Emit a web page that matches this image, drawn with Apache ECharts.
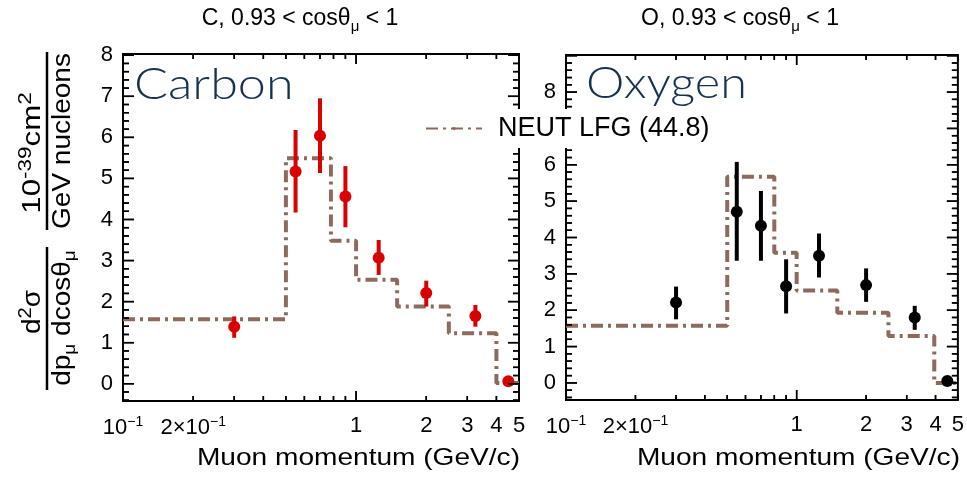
<!DOCTYPE html>
<html>
<head>
<meta charset="utf-8">
<script src="https://cdn.jsdelivr.net/npm/echarts@6/dist/echarts.min.js"></script>
<style>
  html, body { margin: 0; padding: 0; background: #ffffff; }
  #chart { width: 967px; height: 479px; }
</style>
</head>
<body>
<div id="chart"></div>
<script>
// Muon momentum bin positions (GeV/c)
const momentum = [0.3, 0.55, 0.7, 0.9, 1.25, 2.0, 3.25, 4.5];

// Carbon: measured cross section and error-bar ends (1e-39 cm^2 / GeV / nucleon)
const carbonXsec = [1.39, 5.17, 6.04, 4.56, 3.07, 2.21, 1.65, 0.06];
const carbonHigh = [1.64, 6.18, 6.95, 5.30, 3.50, 2.51, 1.92, 0.06];
const carbonLow  = [1.12, 4.17, 5.13, 3.81, 2.65, 1.88, 1.39, 0.06];

// Oxygen: measured cross section and error-bar ends
const oxygenXsec = [2.21, 4.71, 4.32, 2.66, 3.50, 2.69, 1.80, 0.05];
const oxygenHigh = [2.65, 6.08, 5.28, 3.40, 4.11, 3.15, 2.12, 0.05];
const oxygenLow  = [1.75, 3.36, 3.36, 1.91, 2.90, 2.23, 1.46, 0.05];

// NEUT LFG prediction, histogram bin edges and contents
const carbonMcEdges = [0.1, 0.5, 0.78, 1.0, 1.5, 2.5, 4.0, 5.0];
const carbonMc      = [1.57, 5.49, 3.48, 2.53, 1.88, 1.23, 0.02];
const oxygenMcEdges = [0.1, 0.5, 0.8, 1.0, 1.5, 2.5, 3.95, 5.0];
const oxygenMc      = [1.57, 5.67, 3.58, 2.54, 1.93, 1.29, 0.0];

// Axis ticks and labels
const xRange = [0.1, 5];
const xTickValues = [0.1, 0.2, 1, 2, 3, 4, 5];
const xTickLabels = ['10{sup|\u22121}', '2\u00d710{sup|\u22121}', '1', '2', '3', '4', '5'];
const xMajorTicks = [0.1, 1];
const xMinorTicks = [0.2, 0.3, 0.4, 0.5, 0.6, 0.7, 0.8, 0.9, 2, 3, 4, 5];
const yTickValues = [0, 1, 2, 3, 4, 5, 6, 7, 8];
const carbonYRange = [-0.42, 8.03];
const oxygenYRange = [-0.47, 9.02];

const legendName = 'NEUT LFG (44.8)';
const FONT = '"Liberation Sans", Arial, Helvetica, sans-serif';
const MC_COLOR = '#8c6b5e';
const lg = (v) => Math.log10(v);

function minorSteps(from, to) {
  const out = [];
  for (let k = Math.round(from * 5); k <= Math.round(to * 5); k++) {
    if (k % 5 !== 0) out.push(k / 5);
  }
  return out;
}

const hidden = { show: false, onZero: false };

function xAxisFor(grid) {
  const labelFmt = (v) => {
    for (let i = 0; i < xTickValues.length; i++) {
      if (Math.abs(lg(xTickValues[i]) - v) < 1e-6) return xTickLabels[i];
    }
    return '';
  };
  return {
    type: 'value', gridIndex: grid, min: lg(xRange[0]), max: lg(xRange[1]), position: 'bottom',
    axisLine: hidden, axisTick: { show: false }, splitLine: { show: false },
    axisLabel: {
      customValues: xTickValues.map(lg), formatter: labelFmt, margin: 14,
      fontSize: 22, fontFamily: FONT, color: '#000',
      rich: { sup: { fontSize: 14, fontFamily: FONT, color: '#000', padding: [0, 0, 12, 0] } }
    }
  };
}

function yAxisFor(grid, range) {
  return {
    type: 'value', gridIndex: grid, min: range[0], max: range[1], position: 'left',
    axisLine: hidden, axisTick: { show: false }, splitLine: { show: false },
    axisLabel: { customValues: yTickValues, margin: 10, fontSize: 22, fontFamily: FONT, color: '#000' }
  };
}

// Tick positions for one panel: [x, y, length] per frame side
function tickData(yRange) {
  const xMin = lg(xRange[0]), xMax = lg(xRange[1]);
  const yMajors = [];
  for (let v = 0; v <= yRange[1] + 1e-9; v++) yMajors.push(v);
  const yMinors = minorSteps(-0.4, Math.floor(yRange[1]));
  const bottom = [], top = [], left = [], right = [];
  xMajorTicks.forEach(v => { bottom.push([lg(v), yRange[0], 10]); top.push([lg(v), yRange[1], 10]); });
  xMinorTicks.forEach(v => { bottom.push([lg(v), yRange[0], 5]); top.push([lg(v), yRange[1], 5]); });
  yMajors.forEach(v => { left.push([xMin, v, 11]); right.push([xMax, v, 11]); });
  yMinors.forEach(v => { left.push([xMin, v, 6]); right.push([xMax, v, 6]); });
  return { bottom: bottom, top: top, left: left, right: right };
}

function tickSide(idx, data, dx, dy) {
  return {
    type: 'custom', xAxisIndex: idx, yAxisIndex: idx, clip: false, z: 6,
    data: data, encode: { x: 0, y: 1 },
    renderItem: (params, api) => {
      const p = api.coord([api.value(0), api.value(1)]);
      const len = api.value(2);
      return {
        type: 'group',
        children: [{
          type: 'line',
          shape: { x1: p[0], y1: p[1], x2: p[0] + dx * len, y2: p[1] + dy * len },
          style: { stroke: '#000', lineWidth: 1.5 }
        }]
      };
    }
  };
}

function tickSeries(idx, yRange) {
  const d = tickData(yRange);
  return [
    tickSide(idx, d.bottom, 0, -1),
    tickSide(idx, d.top, 0, 1),
    tickSide(idx, d.left, 1, 0),
    tickSide(idx, d.right, -1, 0)
  ];
}

function mcSteps(edges, vals) {
  const pts = vals.map((v, i) => [lg(edges[i]), v]);
  pts.push([lg(edges[edges.length - 1]), vals[vals.length - 1]]);
  return pts;
}

function panelSeries(idx, xsec, low, high, edges, mc, color) {
  return [
    {
      type: 'line', name: legendName, xAxisIndex: idx, yAxisIndex: idx,
      step: 'end', data: mcSteps(edges, mc), symbol: 'none', silent: true, z: 2,
      lineStyle: { color: MC_COLOR, width: 4, type: [12, 5, 3, 5] },
      itemStyle: { color: MC_COLOR }
    },
    {
      type: 'custom', xAxisIndex: idx, yAxisIndex: idx, z: 3, silent: true,
      data: momentum.map((m, i) => [lg(m), low[i], high[i]]),
      encode: { x: 0, y: [1, 2] },
      renderItem: (params, api) => {
        const a = api.coord([api.value(0), api.value(1)]);
        const b = api.coord([api.value(0), api.value(2)]);
        return { type: 'line', shape: { x1: a[0], y1: a[1], x2: b[0], y2: b[1] },
                 style: { stroke: color, lineWidth: 4 } };
      }
    },
    {
      type: 'scatter', xAxisIndex: idx, yAxisIndex: idx, z: 4, silent: true,
      data: momentum.map((m, i) => [lg(m), xsec[i]]),
      symbol: 'circle', symbolSize: 12, itemStyle: { color: color, opacity: 1 }
    }
  ];
}

const richSmall = {
  n: { fontSize: 25, fontFamily: FONT, fill: '#000' },
  sup: { fontSize: 18, fontFamily: FONT, fill: '#000', padding: [0, 0, 14, 0] },
  sub: { fontSize: 17, fontFamily: FONT, fill: '#000', padding: [14, 0, 0, 0] }
};
const richTitle = {
  a: { fontSize: 23, fontFamily: FONT, fill: '#000' },
  s: { fontSize: 15, fontFamily: FONT, fill: '#000', padding: [16, 0, 0, 0] }
};

function rotated(x, y, text, sx) {
  return {
    type: 'text', x: x, y: y, rotation: Math.PI / 2, scaleX: sx, z: 10,
    style: { text: text, rich: richSmall, fontSize: 25, fontFamily: FONT, fill: '#000',
             align: 'center', verticalAlign: 'middle' }
  };
}

const BIG_FONT = 'Lato, "Noto Sans", sans-serif';

const textGraphics = [
  { type: 'text', x: 300, y: 19, z: 10,
    style: { text: '{a|C, 0.93 < cos\u03b8}{s|\u03bc}{a| < 1}', rich: richTitle, align: 'center', verticalAlign: 'middle' } },
  { type: 'text', x: 740, y: 19, z: 10,
    style: { text: '{a|O, 0.93 < cos\u03b8}{s|\u03bc}{a| < 1}', rich: richTitle, align: 'center', verticalAlign: 'middle' } },
  { type: 'text', x: 134, y: 85, scaleX: 1.17, z: 10,
    style: { text: 'Carbon', fontSize: 43, fontWeight: 300, fontFamily: BIG_FONT, fill: '#16324f', align: 'left', verticalAlign: 'middle' } },
  { type: 'text', x: 586, y: 84, scaleX: 1.13, z: 10,
    style: { text: 'Oxygen', fontSize: 43, fontWeight: 300, fontFamily: BIG_FONT, fill: '#16324f', align: 'left', verticalAlign: 'middle' } },
  { type: 'text', x: 520, y: 458, scaleX: 1.17, z: 10,
    style: { text: 'Muon momentum (GeV/c)', fontSize: 24, fontFamily: FONT, fill: '#000', align: 'right', verticalAlign: 'middle' } },
  { type: 'text', x: 960, y: 458, scaleX: 1.17, z: 10,
    style: { text: 'Muon momentum (GeV/c)', fontSize: 24, fontFamily: FONT, fill: '#000', align: 'right', verticalAlign: 'middle' } },
  rotated(33, 153, '{n|10}{sup|-39}{n|cm}{sup|2}', 1.25),
  rotated(63, 141, '{n|GeV nucleons}', 1.12),
  rotated(33, 312, '{n|d}{sup|2}{n|\u03c3}', 1.12),
  rotated(63, 318, '{n|dp}{sub|\u03bc}{n| dcos\u03b8}{sub|\u03bc}', 1.12),
  { type: 'line', z: 10, shape: { x1: 47, y1: 52, x2: 47, y2: 230 }, style: { stroke: '#000', lineWidth: 2.5 } },
  { type: 'line', z: 10, shape: { x1: 47, y1: 247, x2: 47, y2: 390 }, style: { stroke: '#000', lineWidth: 2.5 } }
];

const chart = echarts.init(document.getElementById('chart'), null, { renderer: 'canvas' });
chart.setOption({
  animation: false,
  backgroundColor: '#ffffff',
  grid: [
    { left: 123, top: 54, width: 396, height: 347, show: true, borderColor: '#000', borderWidth: 2, backgroundColor: 'transparent' },
    { left: 566, top: 55, width: 394, height: 345, show: true, borderColor: '#000', borderWidth: 2, backgroundColor: 'transparent' }
  ],
  xAxis: [xAxisFor(0), xAxisFor(1)],
  yAxis: [yAxisFor(0, carbonYRange), yAxisFor(1, oxygenYRange)],
  legend: {
    data: [legendName], left: 419, top: 109, orient: 'horizontal', z: 20,
    backgroundColor: '#ffffff', padding: [6, 10, 6, 6], itemWidth: 56, itemHeight: 4,
    selectedMode: false,
    textStyle: { fontSize: 27, fontFamily: FONT, color: '#000', padding: [0, 0, 0, 11] }
  },
  series: panelSeries(0, carbonXsec, carbonLow, carbonHigh, carbonMcEdges, carbonMc, '#d90000')
    .concat(panelSeries(1, oxygenXsec, oxygenLow, oxygenHigh, oxygenMcEdges, oxygenMc, '#000000'))
    .concat(tickSeries(0, carbonYRange))
    .concat(tickSeries(1, oxygenYRange)),
  graphic: { elements: textGraphics }
});

// Frame ticks as plain shapes too, placed by converting axis values to pixels
try {
  const extra = [];
  [[0, carbonYRange], [1, oxygenYRange]].forEach(([idx, yRange]) => {
    const d = tickData(yRange);
    const finder = { gridIndex: idx };
    const add = (list, dx, dy) => list.forEach(t => {
      const p = chart.convertToPixel(finder, [t[0], t[1]]);
      if (!p || !isFinite(p[0]) || !isFinite(p[1])) return;
      extra.push({ type: 'line', z: 7, silent: true,
        shape: { x1: p[0], y1: p[1], x2: p[0] + dx * t[2], y2: p[1] + dy * t[2] },
        style: { stroke: '#000', lineWidth: 1.5 } });
    });
    add(d.bottom, 0, -1); add(d.top, 0, 1); add(d.left, 1, 0); add(d.right, -1, 0);
  });
  if (extra.length) chart.setOption({ graphic: { elements: textGraphics.concat(extra) } });
} catch (e) { /* series ticks above already cover the frame */ }
</script>
</body>
</html>
